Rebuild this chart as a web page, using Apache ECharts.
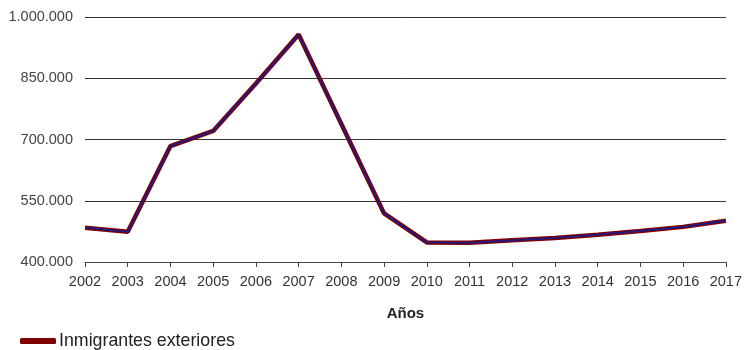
<!DOCTYPE html>
<html><head><meta charset="utf-8">
<script src="https://cdn.jsdelivr.net/npm/echarts@6/dist/echarts.min.js"></script>
<style>html,body{margin:0;padding:0;background:#fff}#c{width:745px;height:350px}</style>
</head><body><div id="c"></div>
<script>
const years = ['2002','2003','2004','2005','2006','2007','2008','2009','2010','2011','2012','2013','2014','2015','2016','2017'];
const inmigrantes = [484000,474000,684000,721000,837000,957000,738000,519000,448000,447000,453000,459000,467000,476000,486000,501000];
const yTicks = [400000,550000,700000,850000,1000000];
const seriesName = 'Inmigrantes exteriores';
const axisName = 'Años';

function fmt(v){return String(v).replace(/\B(?=(\d{3})+(?!\d))/g,'.');}

const chart = echarts.init(document.getElementById('c'), null, {renderer:'canvas'});
chart.setOption({
  animation:false,
  textStyle:{fontFamily:'Liberation Sans, Arial, sans-serif'},
  grid:{left:85,right:17,top:17,bottom:88,containLabel:false},
  legend:{
    show:true, left:20, top:332, padding:0, itemWidth:36, itemHeight:6, itemGap:10,
    icon:'roundRect',
    data:[{name:seriesName}],
    textStyle:{fontSize:17.8,color:'#222',fontFamily:'Liberation Sans, Arial, sans-serif',padding:[0,0,0,-2]}
  },
  xAxis:{
    type:'category', data:years, boundaryGap:false,
    name:axisName, nameLocation:'middle', nameGap:44,
    nameTextStyle:{fontWeight:'bold',fontSize:15,color:'#222'},
    axisLine:{lineStyle:{color:'#444',width:1}},
    axisTick:{show:true,length:5,alignWithLabel:true,lineStyle:{color:'#444'}},
    axisLabel:{fontSize:14.5,color:'#333',margin:12,interval:0},
    splitLine:{show:false}
  },
  yAxis:{
    type:'value', min:400000, max:1000000,
    axisLine:{show:false},
    axisTick:{show:false,customValues:yTicks},
    axisLabel:{fontSize:14.5,color:'#444',margin:12,customValues:yTicks,formatter:function(v){return fmt(v);}},
    splitLine:{lineStyle:{color:'#333',width:1}}
  },
  series:[
    {name:seriesName,type:'line',data:inmigrantes,symbol:'none',
     lineStyle:{color:'#800000',width:4.5},itemStyle:{color:'#800000'},z:2},
    {name:'_inner',type:'line',data:inmigrantes,symbol:'none',
     lineStyle:{color:'#1a1a8c',width:1.8},itemStyle:{color:'#1a1a8c'},z:3,silent:true}
  ]
});
</script></body></html>
